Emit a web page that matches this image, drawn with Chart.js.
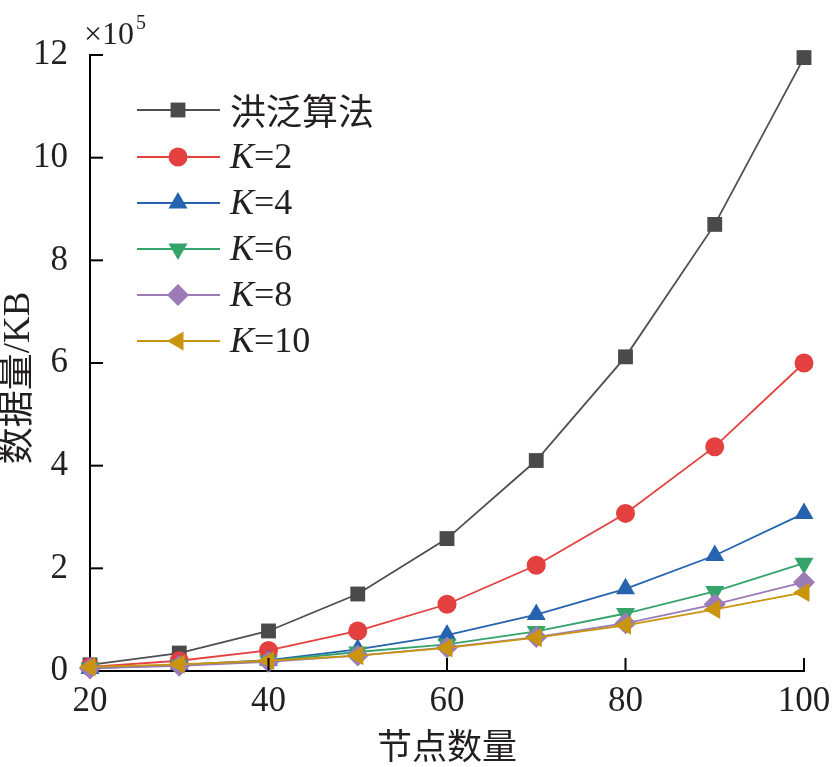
<!DOCTYPE html>
<html><head><meta charset="utf-8">
<script src="https://cdn.jsdelivr.net/npm/chart.js@4/dist/chart.umd.min.js"></script>
<style>html,body{margin:0;padding:0;background:#fff}#wrap{width:835px;height:767px}</style>
</head><body><div id="wrap"><canvas id="c" width="835" height="767"></canvas></div>
<script>
const nodes = [20, 30, 40, 50, 60, 70, 80, 90, 100];
const flood = [0.12, 0.35, 0.78, 1.50, 2.58, 4.10, 6.12, 8.70, 11.95];
const k2 = [0.08, 0.20, 0.40, 0.78, 1.30, 2.06, 3.07, 4.37, 6.00];
const k4 = [0.05, 0.12, 0.21, 0.42, 0.70, 1.10, 1.60, 2.25, 3.07];
const k6 = [0.06, 0.11, 0.20, 0.37, 0.52, 0.77, 1.12, 1.55, 2.10];
const k8 = [0.05, 0.10, 0.18, 0.30, 0.46, 0.66, 0.93, 1.30, 1.73];
const k10 = [0.08, 0.13, 0.20, 0.30, 0.45, 0.65, 0.89, 1.20, 1.53];
const seriesNames = ['洪泛算法', 'K=2', 'K=4', 'K=6', 'K=8', 'K=10'];
const xTicks = [20, 40, 60, 80, 100];
const yTicks = [0, 2, 4, 6, 8, 10, 12];
const xTitle = '节点数量';
const yTitle = '数据量/KB';

const SERIF = '"Liberation Serif", "Noto Sans CJK SC", serif';
const styles = [
  {color:'#4f4f4f', fill:'#4a4a4a', ps:'rect', r:10.5, rot:0},
  {color:'#e3403f', fill:'#e3403f', ps:'circle', r:9.5, rot:0},
  {color:'#2563ae', fill:'#2563ae', ps:'triangle', r:11, rot:0},
  {color:'#34a46b', fill:'#34a46b', ps:'triangle', r:11, rot:180},
  {color:'#9b7cb6', fill:'#9b7cb6', ps:'rectRot', r:11, rot:0},
  {color:'#c9950e', fill:'#c9950e', ps:'triangle', r:11, rot:-90}
];
const allData = [flood, k2, k4, k6, k8, k10];

const datasets = allData.map((d, i) => ({
  label: seriesNames[i],
  data: nodes.map((x, j) => ({x: x, y: d[j]})),
  borderColor: styles[i].color,
  backgroundColor: styles[i].fill,
  pointBackgroundColor: styles[i].fill,
  pointBorderColor: styles[i].fill,
  pointBorderWidth: 0,
  pointStyle: styles[i].ps,
  pointRadius: styles[i].r,
  pointRotation: styles[i].rot,
  borderWidth: 1.8,
  tension: 0,
  clip: false,
  order: 5 - i
}));

const decor = {
  id: 'decor',
  afterDraw(chart) {
    const ctx = chart.ctx;
    const xs = chart.scales.x, ys = chart.scales.y;
    const a = chart.chartArea;
    ctx.save();
    ctx.strokeStyle = '#000';
    ctx.lineWidth = 2;
    // inward ticks
    yTicks.forEach(v => {
      if (v === 0) return;
      const py = ys.getPixelForValue(v);
      ctx.beginPath(); ctx.moveTo(a.left, py); ctx.lineTo(a.left + 13, py); ctx.stroke();
    });
    xTicks.forEach(v => {
      if (v === 20) return;
      const px = xs.getPixelForValue(v);
      ctx.beginPath(); ctx.moveTo(px, a.bottom); ctx.lineTo(px, a.bottom - 13); ctx.stroke();
    });
    ctx.fillStyle = '#231f20';
    // y title
    ctx.save();
    ctx.translate(19, 378);
    ctx.rotate(-Math.PI / 2);
    ctx.textAlign = 'center';
    ctx.textBaseline = 'middle';
    ctx.font = '37px ' + SERIF;
    ctx.fillText(yTitle, 0, 0);
    ctx.restore();
    // ×10^5
    ctx.textBaseline = 'alphabetic';
    ctx.textAlign = 'left';
    ctx.font = '32px ' + SERIF;
    ctx.fillText('×10', 84, 44);
    ctx.font = '20px ' + SERIF;
    ctx.fillText('5', 136, 29);
    // legend
    const rows = [110, 157, 203, 249, 295, 341];
    rows.forEach((ry, i) => {
      const s = styles[i];
      ctx.strokeStyle = s.color;
      ctx.lineWidth = 1.8;
      ctx.beginPath(); ctx.moveTo(137, ry); ctx.lineTo(220, ry); ctx.stroke();
      ctx.fillStyle = s.fill;
      ctx.strokeStyle = s.fill;
      Chart.helpers.drawPoint(ctx, {pointStyle: s.ps, radius: s.r, rotation: s.rot, borderWidth: 0}, 178, ry);
      ctx.fillStyle = '#231f20';
      ctx.textBaseline = 'middle';
      const name = seriesNames[i];
      if (name.startsWith('K=')) {
        ctx.font = 'italic 36px ' + SERIF;
        ctx.fillText('K', 230, ry + 2);
        const w = ctx.measureText('K').width;
        ctx.font = '36px ' + SERIF;
        ctx.fillText(name.slice(1), 230 + w, ry + 2);
      } else {
        ctx.font = '36px "Noto Sans CJK SC", sans-serif';
        ctx.fillText(name, 230, ry + 1);
      }
    });
    ctx.restore();
  }
};

new Chart(document.getElementById('c'), {
  type: 'line',
  data: { datasets: datasets },
  options: {
    responsive: false,
    animation: false,
    devicePixelRatio: 1,
    layout: { padding: { top: 55, right: 31, left: 0, bottom: 0 } },
    plugins: { legend: { display: false }, tooltip: { enabled: false } },
    scales: {
      x: {
        type: 'linear', min: 20, max: 100,
        afterFit: s => { s.height = 96; },
        afterBuildTicks: s => { s.ticks = xTicks.map(v => ({value: v})); },
        grid: { display: false },
        border: { display: true, color: '#000', width: 2 },
        ticks: { color: '#231f20', font: { family: SERIF, size: 35 }, padding: 2, maxRotation: 0 },
        title: { display: true, text: xTitle, color: '#231f20', font: { family: '"Noto Sans CJK SC", sans-serif', size: 35 }, padding: { top: 0, bottom: 0 } }
      },
      y: {
        type: 'linear', min: 0, max: 12,
        afterFit: s => { s.width = 90; },
        afterBuildTicks: s => { s.ticks = yTicks.map(v => ({value: v})); },
        grid: { display: false },
        border: { display: true, color: '#000', width: 2 },
        ticks: { color: '#231f20', font: { family: SERIF, size: 35 }, padding: 14 },
        title: { display: false }
      }
    }
  },
  plugins: [decor]
});
</script>
</body></html>
